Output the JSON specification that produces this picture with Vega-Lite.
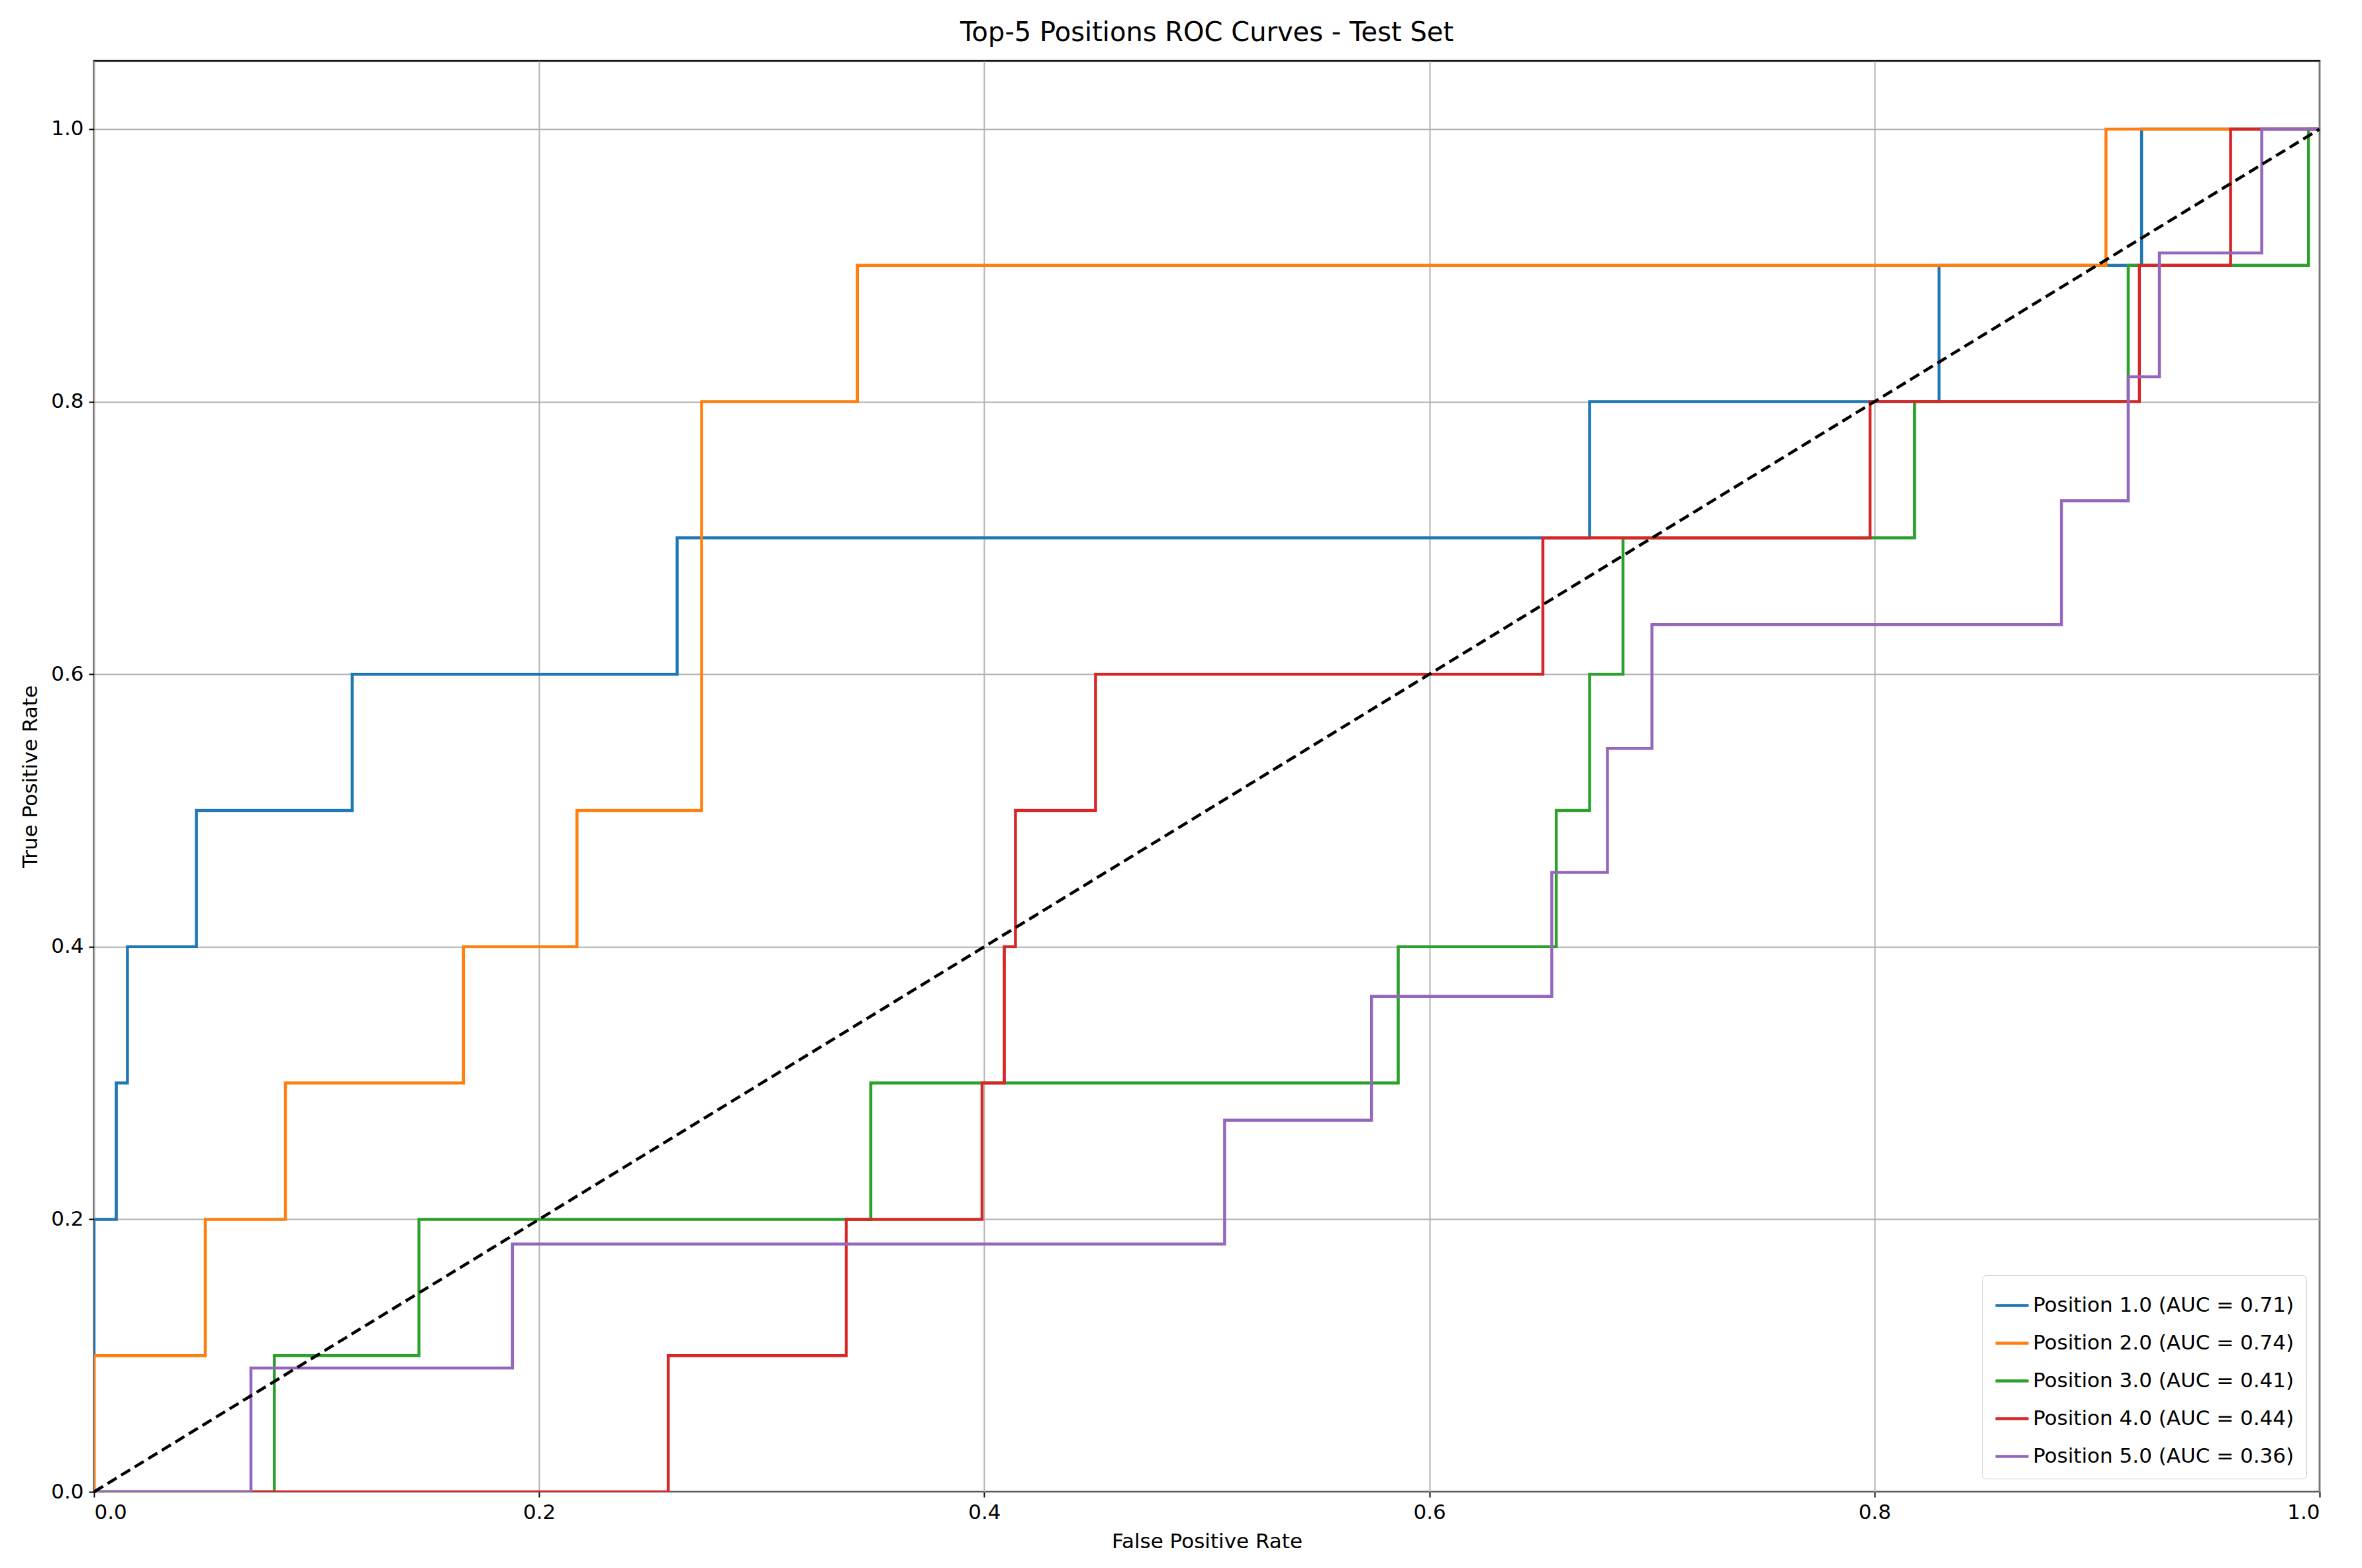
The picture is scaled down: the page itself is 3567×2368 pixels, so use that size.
{
  "$schema": "https://vega.github.io/schema/vega-lite/v6.json",
  "width": 3567,
  "height": 2368,
  "autosize": {"type": "fit", "contains": "padding"},
  "padding": {"left": 30, "top": 30, "right": 55, "bottom": 25},
  "background": "white",
  "title": {"text": "Top-5 Positions ROC Curves - Test Set", "fontSize": 40, "fontWeight": "normal", "font": "DejaVu Sans", "offset": 22},
  "datasets": {
    "roc": [
      {"s": "Position 1.0 (AUC = 0.71)", "o": 0, "fpr": 0, "tpr": 0},
      {"s": "Position 1.0 (AUC = 0.71)", "o": 1, "fpr": 0, "tpr": 0.2},
      {"s": "Position 1.0 (AUC = 0.71)", "o": 2, "fpr": 0.01, "tpr": 0.2},
      {"s": "Position 1.0 (AUC = 0.71)", "o": 3, "fpr": 0.01, "tpr": 0.3},
      {"s": "Position 1.0 (AUC = 0.71)", "o": 4, "fpr": 0.015, "tpr": 0.3},
      {"s": "Position 1.0 (AUC = 0.71)", "o": 5, "fpr": 0.015, "tpr": 0.4},
      {"s": "Position 1.0 (AUC = 0.71)", "o": 6, "fpr": 0.046, "tpr": 0.4},
      {"s": "Position 1.0 (AUC = 0.71)", "o": 7, "fpr": 0.046, "tpr": 0.5},
      {"s": "Position 1.0 (AUC = 0.71)", "o": 8, "fpr": 0.116, "tpr": 0.5},
      {"s": "Position 1.0 (AUC = 0.71)", "o": 9, "fpr": 0.116, "tpr": 0.6},
      {"s": "Position 1.0 (AUC = 0.71)", "o": 10, "fpr": 0.262, "tpr": 0.6},
      {"s": "Position 1.0 (AUC = 0.71)", "o": 11, "fpr": 0.262, "tpr": 0.7},
      {"s": "Position 1.0 (AUC = 0.71)", "o": 12, "fpr": 0.672, "tpr": 0.7},
      {"s": "Position 1.0 (AUC = 0.71)", "o": 13, "fpr": 0.672, "tpr": 0.8},
      {"s": "Position 1.0 (AUC = 0.71)", "o": 14, "fpr": 0.829, "tpr": 0.8},
      {"s": "Position 1.0 (AUC = 0.71)", "o": 15, "fpr": 0.829, "tpr": 0.9},
      {"s": "Position 1.0 (AUC = 0.71)", "o": 16, "fpr": 0.92, "tpr": 0.9},
      {"s": "Position 1.0 (AUC = 0.71)", "o": 17, "fpr": 0.92, "tpr": 1.0},
      {"s": "Position 1.0 (AUC = 0.71)", "o": 18, "fpr": 1, "tpr": 1.0},

      {"s": "Position 2.0 (AUC = 0.74)", "o": 0, "fpr": 0, "tpr": 0},
      {"s": "Position 2.0 (AUC = 0.74)", "o": 1, "fpr": 0, "tpr": 0.1},
      {"s": "Position 2.0 (AUC = 0.74)", "o": 2, "fpr": 0.05, "tpr": 0.1},
      {"s": "Position 2.0 (AUC = 0.74)", "o": 3, "fpr": 0.05, "tpr": 0.2},
      {"s": "Position 2.0 (AUC = 0.74)", "o": 4, "fpr": 0.086, "tpr": 0.2},
      {"s": "Position 2.0 (AUC = 0.74)", "o": 5, "fpr": 0.086, "tpr": 0.3},
      {"s": "Position 2.0 (AUC = 0.74)", "o": 6, "fpr": 0.166, "tpr": 0.3},
      {"s": "Position 2.0 (AUC = 0.74)", "o": 7, "fpr": 0.166, "tpr": 0.4},
      {"s": "Position 2.0 (AUC = 0.74)", "o": 8, "fpr": 0.217, "tpr": 0.4},
      {"s": "Position 2.0 (AUC = 0.74)", "o": 9, "fpr": 0.217, "tpr": 0.5},
      {"s": "Position 2.0 (AUC = 0.74)", "o": 10, "fpr": 0.273, "tpr": 0.5},
      {"s": "Position 2.0 (AUC = 0.74)", "o": 11, "fpr": 0.273, "tpr": 0.8},
      {"s": "Position 2.0 (AUC = 0.74)", "o": 12, "fpr": 0.343, "tpr": 0.8},
      {"s": "Position 2.0 (AUC = 0.74)", "o": 13, "fpr": 0.343, "tpr": 0.9},
      {"s": "Position 2.0 (AUC = 0.74)", "o": 14, "fpr": 0.904, "tpr": 0.9},
      {"s": "Position 2.0 (AUC = 0.74)", "o": 15, "fpr": 0.904, "tpr": 1.0},
      {"s": "Position 2.0 (AUC = 0.74)", "o": 16, "fpr": 1, "tpr": 1.0},

      {"s": "Position 3.0 (AUC = 0.41)", "o": 0, "fpr": 0, "tpr": 0},
      {"s": "Position 3.0 (AUC = 0.41)", "o": 1, "fpr": 0.081, "tpr": 0},
      {"s": "Position 3.0 (AUC = 0.41)", "o": 2, "fpr": 0.081, "tpr": 0.1},
      {"s": "Position 3.0 (AUC = 0.41)", "o": 3, "fpr": 0.146, "tpr": 0.1},
      {"s": "Position 3.0 (AUC = 0.41)", "o": 4, "fpr": 0.146, "tpr": 0.2},
      {"s": "Position 3.0 (AUC = 0.41)", "o": 5, "fpr": 0.349, "tpr": 0.2},
      {"s": "Position 3.0 (AUC = 0.41)", "o": 6, "fpr": 0.349, "tpr": 0.3},
      {"s": "Position 3.0 (AUC = 0.41)", "o": 7, "fpr": 0.586, "tpr": 0.3},
      {"s": "Position 3.0 (AUC = 0.41)", "o": 8, "fpr": 0.586, "tpr": 0.4},
      {"s": "Position 3.0 (AUC = 0.41)", "o": 9, "fpr": 0.657, "tpr": 0.4},
      {"s": "Position 3.0 (AUC = 0.41)", "o": 10, "fpr": 0.657, "tpr": 0.5},
      {"s": "Position 3.0 (AUC = 0.41)", "o": 11, "fpr": 0.672, "tpr": 0.5},
      {"s": "Position 3.0 (AUC = 0.41)", "o": 12, "fpr": 0.672, "tpr": 0.6},
      {"s": "Position 3.0 (AUC = 0.41)", "o": 13, "fpr": 0.687, "tpr": 0.6},
      {"s": "Position 3.0 (AUC = 0.41)", "o": 14, "fpr": 0.687, "tpr": 0.7},
      {"s": "Position 3.0 (AUC = 0.41)", "o": 15, "fpr": 0.818, "tpr": 0.7},
      {"s": "Position 3.0 (AUC = 0.41)", "o": 16, "fpr": 0.818, "tpr": 0.8},
      {"s": "Position 3.0 (AUC = 0.41)", "o": 17, "fpr": 0.914, "tpr": 0.8},
      {"s": "Position 3.0 (AUC = 0.41)", "o": 18, "fpr": 0.914, "tpr": 0.9},
      {"s": "Position 3.0 (AUC = 0.41)", "o": 19, "fpr": 0.995, "tpr": 0.9},
      {"s": "Position 3.0 (AUC = 0.41)", "o": 20, "fpr": 0.995, "tpr": 1.0},
      {"s": "Position 3.0 (AUC = 0.41)", "o": 21, "fpr": 1, "tpr": 1.0},

      {"s": "Position 4.0 (AUC = 0.44)", "o": 0, "fpr": 0, "tpr": 0},
      {"s": "Position 4.0 (AUC = 0.44)", "o": 1, "fpr": 0.258, "tpr": 0},
      {"s": "Position 4.0 (AUC = 0.44)", "o": 2, "fpr": 0.258, "tpr": 0.1},
      {"s": "Position 4.0 (AUC = 0.44)", "o": 3, "fpr": 0.338, "tpr": 0.1},
      {"s": "Position 4.0 (AUC = 0.44)", "o": 4, "fpr": 0.338, "tpr": 0.2},
      {"s": "Position 4.0 (AUC = 0.44)", "o": 5, "fpr": 0.399, "tpr": 0.2},
      {"s": "Position 4.0 (AUC = 0.44)", "o": 6, "fpr": 0.399, "tpr": 0.3},
      {"s": "Position 4.0 (AUC = 0.44)", "o": 7, "fpr": 0.409, "tpr": 0.3},
      {"s": "Position 4.0 (AUC = 0.44)", "o": 8, "fpr": 0.409, "tpr": 0.4},
      {"s": "Position 4.0 (AUC = 0.44)", "o": 9, "fpr": 0.414, "tpr": 0.4},
      {"s": "Position 4.0 (AUC = 0.44)", "o": 10, "fpr": 0.414, "tpr": 0.5},
      {"s": "Position 4.0 (AUC = 0.44)", "o": 11, "fpr": 0.45, "tpr": 0.5},
      {"s": "Position 4.0 (AUC = 0.44)", "o": 12, "fpr": 0.45, "tpr": 0.6},
      {"s": "Position 4.0 (AUC = 0.44)", "o": 13, "fpr": 0.651, "tpr": 0.6},
      {"s": "Position 4.0 (AUC = 0.44)", "o": 14, "fpr": 0.651, "tpr": 0.7},
      {"s": "Position 4.0 (AUC = 0.44)", "o": 15, "fpr": 0.798, "tpr": 0.7},
      {"s": "Position 4.0 (AUC = 0.44)", "o": 16, "fpr": 0.798, "tpr": 0.8},
      {"s": "Position 4.0 (AUC = 0.44)", "o": 17, "fpr": 0.919, "tpr": 0.8},
      {"s": "Position 4.0 (AUC = 0.44)", "o": 18, "fpr": 0.919, "tpr": 0.9},
      {"s": "Position 4.0 (AUC = 0.44)", "o": 19, "fpr": 0.96, "tpr": 0.9},
      {"s": "Position 4.0 (AUC = 0.44)", "o": 20, "fpr": 0.96, "tpr": 1.0},
      {"s": "Position 4.0 (AUC = 0.44)", "o": 21, "fpr": 1, "tpr": 1.0},

      {"s": "Position 5.0 (AUC = 0.36)", "o": 0, "fpr": 0, "tpr": 0},
      {"s": "Position 5.0 (AUC = 0.36)", "o": 1, "fpr": 0.0705, "tpr": 0},
      {"s": "Position 5.0 (AUC = 0.36)", "o": 2, "fpr": 0.0705, "tpr": 0.0909},
      {"s": "Position 5.0 (AUC = 0.36)", "o": 3, "fpr": 0.188, "tpr": 0.0909},
      {"s": "Position 5.0 (AUC = 0.36)", "o": 4, "fpr": 0.188, "tpr": 0.1818},
      {"s": "Position 5.0 (AUC = 0.36)", "o": 5, "fpr": 0.508, "tpr": 0.1818},
      {"s": "Position 5.0 (AUC = 0.36)", "o": 6, "fpr": 0.508, "tpr": 0.2727},
      {"s": "Position 5.0 (AUC = 0.36)", "o": 7, "fpr": 0.574, "tpr": 0.2727},
      {"s": "Position 5.0 (AUC = 0.36)", "o": 8, "fpr": 0.574, "tpr": 0.3636},
      {"s": "Position 5.0 (AUC = 0.36)", "o": 9, "fpr": 0.655, "tpr": 0.3636},
      {"s": "Position 5.0 (AUC = 0.36)", "o": 10, "fpr": 0.655, "tpr": 0.4545},
      {"s": "Position 5.0 (AUC = 0.36)", "o": 11, "fpr": 0.68, "tpr": 0.4545},
      {"s": "Position 5.0 (AUC = 0.36)", "o": 12, "fpr": 0.68, "tpr": 0.5455},
      {"s": "Position 5.0 (AUC = 0.36)", "o": 13, "fpr": 0.70, "tpr": 0.5455},
      {"s": "Position 5.0 (AUC = 0.36)", "o": 14, "fpr": 0.70, "tpr": 0.6364},
      {"s": "Position 5.0 (AUC = 0.36)", "o": 15, "fpr": 0.884, "tpr": 0.6364},
      {"s": "Position 5.0 (AUC = 0.36)", "o": 16, "fpr": 0.884, "tpr": 0.7273},
      {"s": "Position 5.0 (AUC = 0.36)", "o": 17, "fpr": 0.914, "tpr": 0.7273},
      {"s": "Position 5.0 (AUC = 0.36)", "o": 18, "fpr": 0.914, "tpr": 0.8182},
      {"s": "Position 5.0 (AUC = 0.36)", "o": 19, "fpr": 0.928, "tpr": 0.8182},
      {"s": "Position 5.0 (AUC = 0.36)", "o": 20, "fpr": 0.928, "tpr": 0.9091},
      {"s": "Position 5.0 (AUC = 0.36)", "o": 21, "fpr": 0.974, "tpr": 0.9091},
      {"s": "Position 5.0 (AUC = 0.36)", "o": 22, "fpr": 0.974, "tpr": 1.0},
      {"s": "Position 5.0 (AUC = 0.36)", "o": 23, "fpr": 1, "tpr": 1.0}
    ],
    "diag": [{"fpr": 0, "tpr": 0}, {"fpr": 1, "tpr": 1}]
  },
  "layer": [
    {
      "data": {"name": "roc"},
      "mark": {"type": "line", "strokeWidth": 4.5, "clip": true},
      "encoding": {
        "x": {"field": "fpr", "type": "quantitative", "scale": {"domain": [0, 1], "nice": false}, "title": "False Positive Rate",
              "axis": {"values": [0, 0.2, 0.4, 0.6, 0.8, 1.0], "format": ".1f"}},
        "y": {"field": "tpr", "type": "quantitative", "scale": {"domain": [0, 1.05], "nice": false}, "title": "True Positive Rate",
              "axis": {"values": [0, 0.2, 0.4, 0.6, 0.8, 1.0], "format": ".1f"}},
        "color": {"field": "s", "type": "nominal", "title": null,
                  "scale": {"range": ["#1f77b4", "#ff7f0e", "#2ca02c", "#d62728", "#9467bd"]},
                  "legend": {"orient": "bottom-right", "symbolType": "stroke", "symbolStrokeWidth": 4.5, "symbolSize": 2500,
                             "labelFontSize": 31, "labelFont": "DejaVu Sans", "labelLimit": 1000, "rowPadding": 14, "padding": 18,
                             "fillColor": "white", "strokeColor": "#cccccc", "cornerRadius": 6, "offset": 20}},
        "order": {"field": "o", "type": "quantitative"}
      }
    },
    {
      "data": {"name": "diag"},
      "mark": {"type": "line", "color": "black", "strokeWidth": 4.5, "strokeDash": [16, 8]},
      "encoding": {
        "x": {"field": "fpr", "type": "quantitative"},
        "y": {"field": "tpr", "type": "quantitative"}
      }
    }
  ],
  "config": {
    "font": "DejaVu Sans",
    "view": {"stroke": "black", "strokeWidth": 2.5},
    "axis": {"labelFontSize": 31, "titleFontSize": 31, "titleFontWeight": "normal", "labelColor": "black", "titleColor": "black",
             "grid": true, "gridColor": "#b0b0b0", "gridWidth": 2, "domain": false, "tickColor": "black", "tickSize": 8, "tickWidth": 2,
             "labelPadding": 8, "titlePadding": 14}
  }
}
